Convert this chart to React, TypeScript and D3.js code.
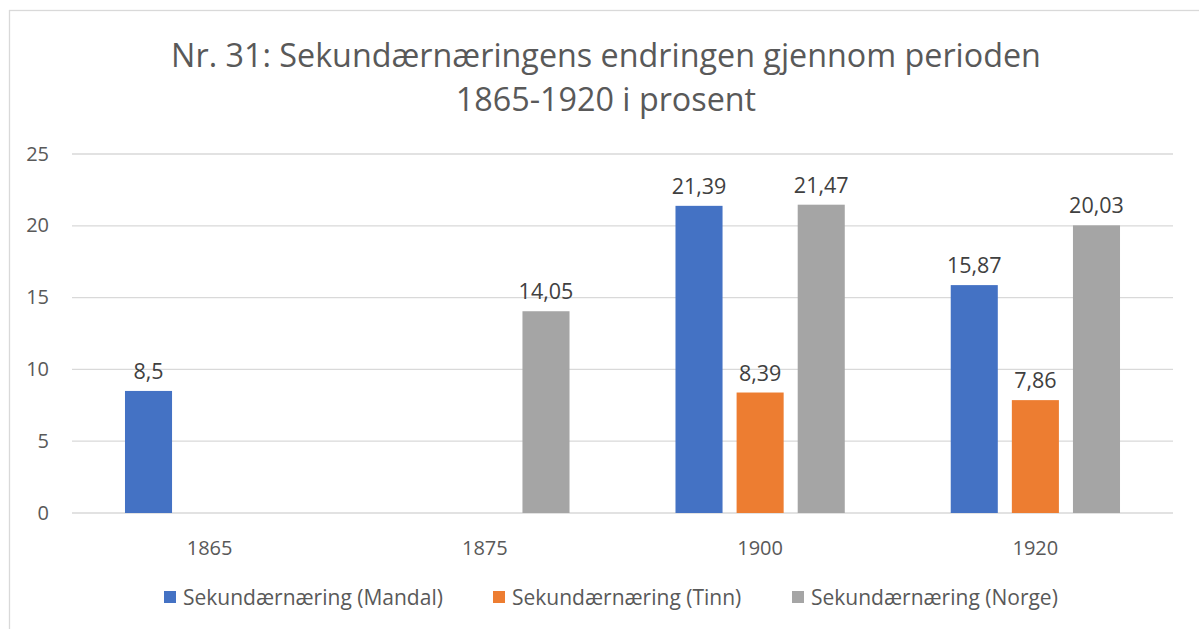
import * as d3 from "d3";

const years = ["1865", "1875", "1900", "1920"];
const seriesNames = [
  "Sekundærnæring (Mandal)",
  "Sekundærnæring (Tinn)",
  "Sekundærnæring (Norge)",
];
const mandal: (number | null)[] = [8.5, null, 21.39, 15.87];
const tinn: (number | null)[] = [null, null, 8.39, 7.86];
const norge: (number | null)[] = [null, 14.05, 21.47, 20.03];
const yTicks = [0, 5, 10, 15, 20, 25];

const colors = ["#4472C4", "#ED7D31", "#A5A5A5"];
const font = "'Open Sans', sans-serif";

export default function App() {
  const width = 1199;
  const height = 629;
  const left = 72;
  const right = 1173;
  const top = 154;
  const bottom = 513;

  const series = [mandal, tinn, norge];

  const x = d3.scaleBand().domain(years).range([left, right]).paddingInner(0.385).paddingOuter(0.1925);
  const inner = d3
    .scaleBand()
    .domain(seriesNames)
    .range([0, x.bandwidth()])
    .paddingInner(0.23);
  const y = d3.scaleLinear().domain([0, 25]).range([bottom, top]);

  const fmt = (v: number) => String(v).replace(".", ",");
  const legendX = [164, 493, 792];

  return (
    <svg
      width={width}
      height={height}
      style={{ position: "absolute", left: 0, top: 0, background: "#fff" }}
      fontFamily={font}
    >
      <rect x={9.5} y={10.5} width={1220} height={640} fill="#fff" stroke="#D9D9D9" strokeWidth={1.3} />
      <text x={606} y={67} textAnchor="middle" fontSize={32.3} fill="#595959">
        Nr. 31: Sekundærnæringens endringen gjennom perioden
      </text>
      <text x={606} y={111} textAnchor="middle" fontSize={32.3} fill="#595959">
        1865-1920 i prosent
      </text>
      {yTicks.map((t) => (
        <g key={t}>
          <line x1={left} x2={right} y1={y(t)} y2={y(t)} stroke="#D9D9D9" strokeWidth={1.3} />
          <text x={49} y={y(t) + 6.5} textAnchor="end" fontSize={20} fill="#595959">
            {t}
          </text>
        </g>
      ))}
      {years.map((yr) => (
        <text key={yr} x={x(yr)! + x.bandwidth() / 2} y={555} textAnchor="middle" fontSize={20} fill="#595959">
          {yr}
        </text>
      ))}
      {series.map((vals, si) =>
        vals.map((v, i) => {
          if (v === null) return null;
          const bx = x(years[i])! + inner(seriesNames[si])!;
          return (
            <g key={`${si}-${i}`}>
              <rect x={bx} y={y(v)} width={inner.bandwidth()} height={y(0) - y(v)} fill={colors[si]} />
              <text
                x={bx + inner.bandwidth() / 2}
                y={y(v) - 12}
                textAnchor="middle"
                fontSize={21.5}
                fill="#404040"
              >
                {fmt(v)}
              </text>
            </g>
          );
        })
      )}
      {seriesNames.map((s, i) => (
        <g key={s} transform={`translate(${legendX[i]},597)`}>
          <rect x={0} y={-6} width={12} height={12} fill={colors[i]} />
          <text x={19} y={7.5} fontSize={21} fill="#595959">
            {s}
          </text>
        </g>
      ))}
    </svg>
  );
}
